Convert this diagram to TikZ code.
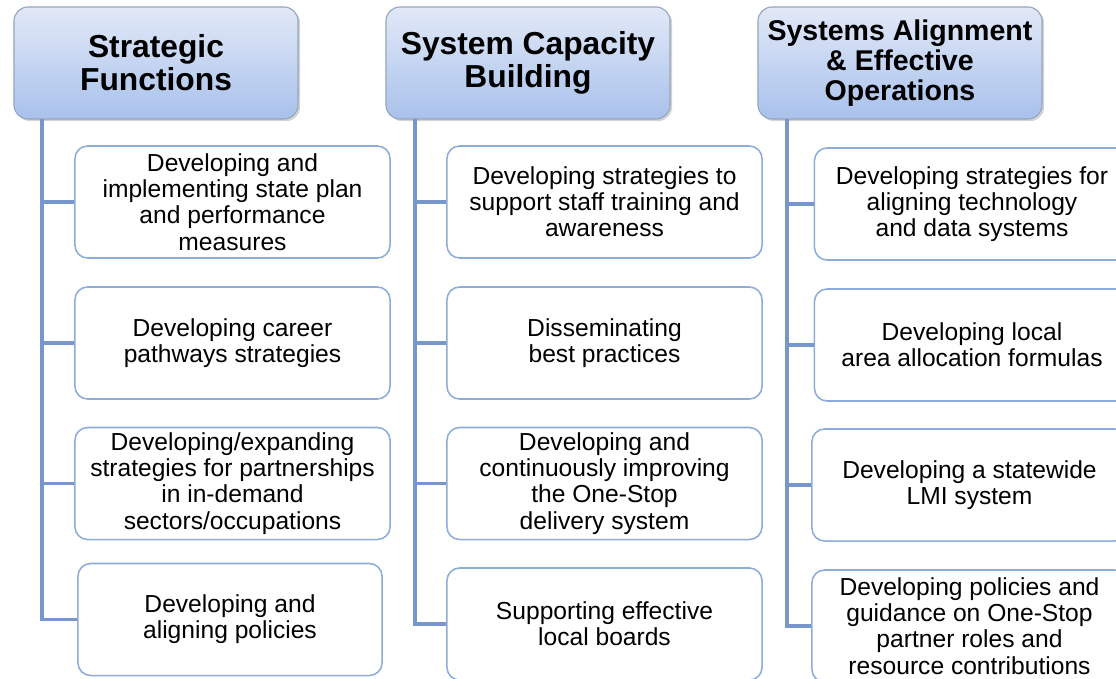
\documentclass[tikz,border=0pt]{standalone}
\usepackage{fontspec}
\setmainfont{Liberation Sans}
\usepackage{tikz}
\usetikzlibrary{shadows}
\usetikzlibrary{positioning}
\definecolor{boxline}{RGB}{140,172,218}
\definecolor{trunkline}{RGB}{118,150,204}
\definecolor{headtop}{RGB}{226,233,247}
\definecolor{headbot}{RGB}{168,193,236}
\definecolor{headline}{RGB}{150,165,190}
\tikzset{x=0.025cm, y=-0.025cm,
      head/.style={draw=headline, line width=0.8pt, rounded corners=10pt,
      top color=headtop, bottom color=headbot,
      drop shadow={opacity=0.35, shadow xshift=1.5pt, shadow yshift=-1.5pt},
      minimum width=7.1cm, minimum height=2.8cm, align=center,
      font=\fontsize{22.6}{23.6}\selectfont\bfseries},
      item/.style={draw=boxline, line width=1.1pt, rounded corners=9pt,
      fill=white, minimum width=7.875cm, minimum height=2.8cm, align=center,
      font=\fontsize{17.5}{18.6}\selectfont},
      trunk/.style={draw=trunkline, line width=2.6pt}}

\begin{document}
\begin{tikzpicture}
          \useasboundingbox (0,0) rectangle (1116,678);

          \node[head] (h1) at (156,63) {Strategic\\Functions};
          \node[head] (h2) at (528,63) {System Capacity\\Building};
          \node[head, font=\fontsize{20.3}{21.4}\selectfont\bfseries] (h3) at (900,63) {Systems Alignment\\\& Effective\\Operations};

          \coordinate (t1) at (42,119);
          \coordinate (t2) at (415,119);
          \coordinate (t3) at (787,119);

          \node[item] (b11) at (232.5,202) {Developing and\\implementing state plan\\and performance\\measures};
          \node[item] (b12) at (232.5,343) {Developing career\\pathways strategies};
          \node[item] (b13) at (232.5,483.5) {Developing/expanding\\strategies for partnerships\\in in-demand\\sectors/occupations};
          \node[item, minimum width=7.6cm] (b14) at (230,619.5) {Developing and\\aligning policies};

          \node[item] (b21) at (604.5,202) {Developing strategies to\\support staff training and\\awareness};
          \node[item] (b22) at (604.5,343) {Disseminating\\best practices};
          \node[item] (b23) at (604.5,483.5) {Developing and\\continuously improving\\the One-Stop\\delivery system};
          \node[item] (b24) at (604.5,624) {Supporting effective\\local boards};

          \node[item] (b31) at (972,204) {Developing strategies for\\aligning technology\\and data systems};
          \node[item] (b32) at (972,345) {Developing local\\area allocation formulas};
          \node[item] (b33) at (969.5,485) {Developing a statewide\\LMI system};
          \node[item] (b34) at (969.5,626) {Developing policies and\\guidance on One-Stop\\partner roles and\\resource contributions};

          \draw[trunk] (t1) |- (b14.west);
          \draw[trunk] (t1 |- b11.west) -- (b11.west);
          \draw[trunk] (t1 |- b12.west) -- (b12.west);
          \draw[trunk] (t1 |- b13.west) -- (b13.west);

          \draw[trunk] (t2) |- (b24.west);
          \draw[trunk] (t2 |- b21.west) -- (b21.west);
          \draw[trunk] (t2 |- b22.west) -- (b22.west);
          \draw[trunk] (t2 |- b23.west) -- (b23.west);

          \draw[trunk] (t3) |- (b34.west);
          \draw[trunk] (t3 |- b31.west) -- (b31.west);
          \draw[trunk] (t3 |- b32.west) -- (b32.west);
          \draw[trunk] (t3 |- b33.west) -- (b33.west);
\end{tikzpicture}
\end{document}
